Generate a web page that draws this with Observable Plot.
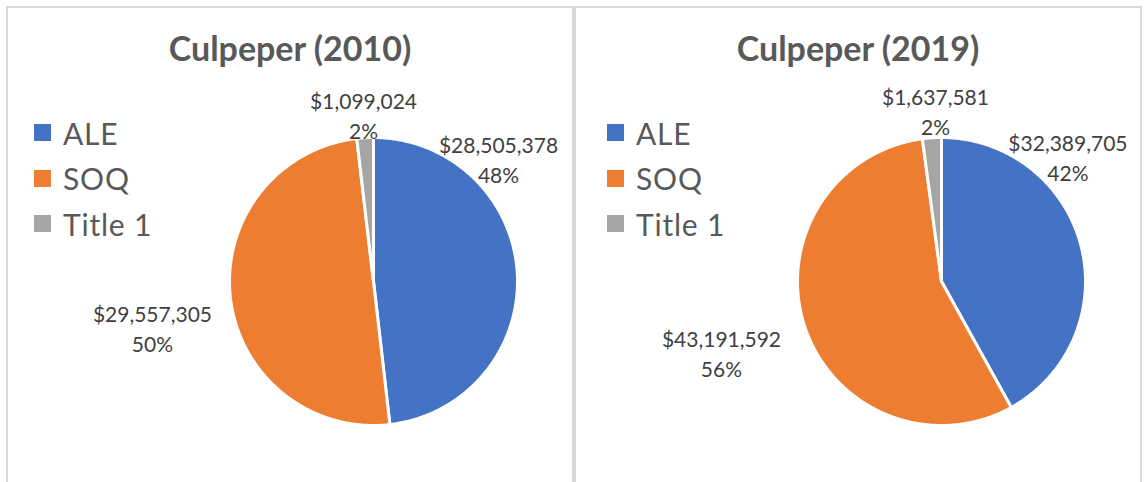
<!DOCTYPE html>
<html>
<head>
<meta charset="utf-8">
<script src="https://cdn.jsdelivr.net/npm/d3@7"></script>
<script src="https://cdn.jsdelivr.net/npm/@observablehq/plot@0.6"></script>
<style>
  html, body { margin: 0; padding: 0; background: #fff; }
  #root { position: relative; width: 1144px; height: 482px; overflow: hidden; background: #fff; font-family: Lato, "Open Sans", sans-serif; }
  .panel { position: absolute; top: 6px; height: 520px; width: 568px; box-sizing: border-box; border: 2px solid #d9d9d9; border-bottom: none; z-index: 5; pointer-events: none; }
  .chart { position: absolute; top: 0; width: 568px; height: 482px; }
  .title { position: absolute; top: 28px; width: 568px; text-align: center; font-family: Lato, sans-serif; font-weight: bold; font-size: 34px; line-height: 1.2; color: #595959; white-space: nowrap; }
  .legend { position: absolute; top: 110px; }
  .legend .row { display: flex; align-items: center; height: 45.5px; }
  .legend .sw { width: 17px; height: 17px; margin-right: 12px; }
  .legend .lbl { font-family: Lato, sans-serif; font-size: 30px; letter-spacing: 0.8px; color: #595959; line-height: 1; white-space: nowrap; }
</style>
</head>
<body>
<div id="root"></div>
<script>
// ---- data ----
const categories = ["ALE", "SOQ", "Title 1"];
const colors = ["#4472C4", "#ED7D31", "#A5A5A5"];
const titles = ["Culpeper (2010)", "Culpeper (2019)"];
const values2010 = [28505378, 29557305, 1099024];
const values2019 = [32389705, 43191592, 1637581];

// ---- layout (label anchors in pie-radius units, panel offsets) ----
const labelOffsets2010 = [[0.868, 0.858], [-1.535, -0.319], [-0.069, 1.161]];
const labelOffsets2019 = [[0.878, 0.872], [-1.528, -0.493], [-0.042, 1.191]];
const panels = [
  {x: 6, legendX: 34, values: values2010, offsets: labelOffsets2010, title: titles[0]},
  {x: 574, legendX: 607, values: values2019, offsets: labelOffsets2019, title: titles[1]}
];
const cx = 367, cy = 281, r = 144;

function pieChart(values, offsets) {
  const total = d3.sum(values);
  const pts = [];
  let a = 0;
  values.forEach((v, i) => {
    const a0 = a, a1 = a + v / total * 2 * Math.PI;
    a = a1;
    const n = Math.max(2, Math.ceil((a1 - a0) / (Math.PI / 360)));
    pts.push({cat: categories[i], x: 0, y: 0});
    for (let k = 0; k <= n; k++) {
      const t = a0 + (a1 - a0) * k / n;
      pts.push({cat: categories[i], x: Math.sin(t), y: Math.cos(t)});
    }
  });
  const fmt = d3.format("$,");
  const labels = values.map((v, i) => ({
    x: offsets[i][0], y: offsets[i][1],
    text: `${fmt(v)}\n${Math.round(v / total * 100)}%`
  }));
  return Plot.plot({
    width: 568, height: 482, margin: 0,
    x: {domain: [-1, 1], range: [cx - r, cx + r], axis: null},
    y: {domain: [-1, 1], range: [cy + r, cy - r], axis: null},
    color: {domain: categories, range: colors},
    style: {background: "none", overflow: "visible"},
    marks: [
      Plot.line(pts, {x: "x", y: "y", z: "cat", fill: "cat", stroke: "white", strokeWidth: 3, curve: "linear-closed", strokeLinejoin: "round"}),
      Plot.text(labels, {x: "x", y: "y", text: "text", fill: "#404040", fontSize: 21, fontFamily: "Lato", lineHeight: 1.43})
    ]
  });
}

const root = document.getElementById("root");
panels.forEach(p => {
  const wrap = document.createElement("div");
  wrap.className = "chart";
  wrap.style.left = p.x + "px";
  wrap.appendChild(pieChart(p.values, p.offsets));
  root.appendChild(wrap);

  const t = document.createElement("div");
  t.className = "title";
  t.style.left = p.x + "px";
  t.textContent = p.title;
  root.appendChild(t);

  const lg = document.createElement("div");
  lg.className = "legend";
  lg.style.left = p.legendX + "px";
  categories.forEach((c, i) => {
    const row = document.createElement("div");
    row.className = "row";
    const sw = document.createElement("span");
    sw.className = "sw";
    sw.style.background = colors[i];
    const lb = document.createElement("span");
    lb.className = "lbl";
    lb.textContent = c;
    row.appendChild(sw);
    row.appendChild(lb);
    lg.appendChild(row);
  });
  root.appendChild(lg);

  const border = document.createElement("div");
  border.className = "panel";
  border.style.left = p.x + "px";
  root.appendChild(border);
});
</script>
</body>
</html>
